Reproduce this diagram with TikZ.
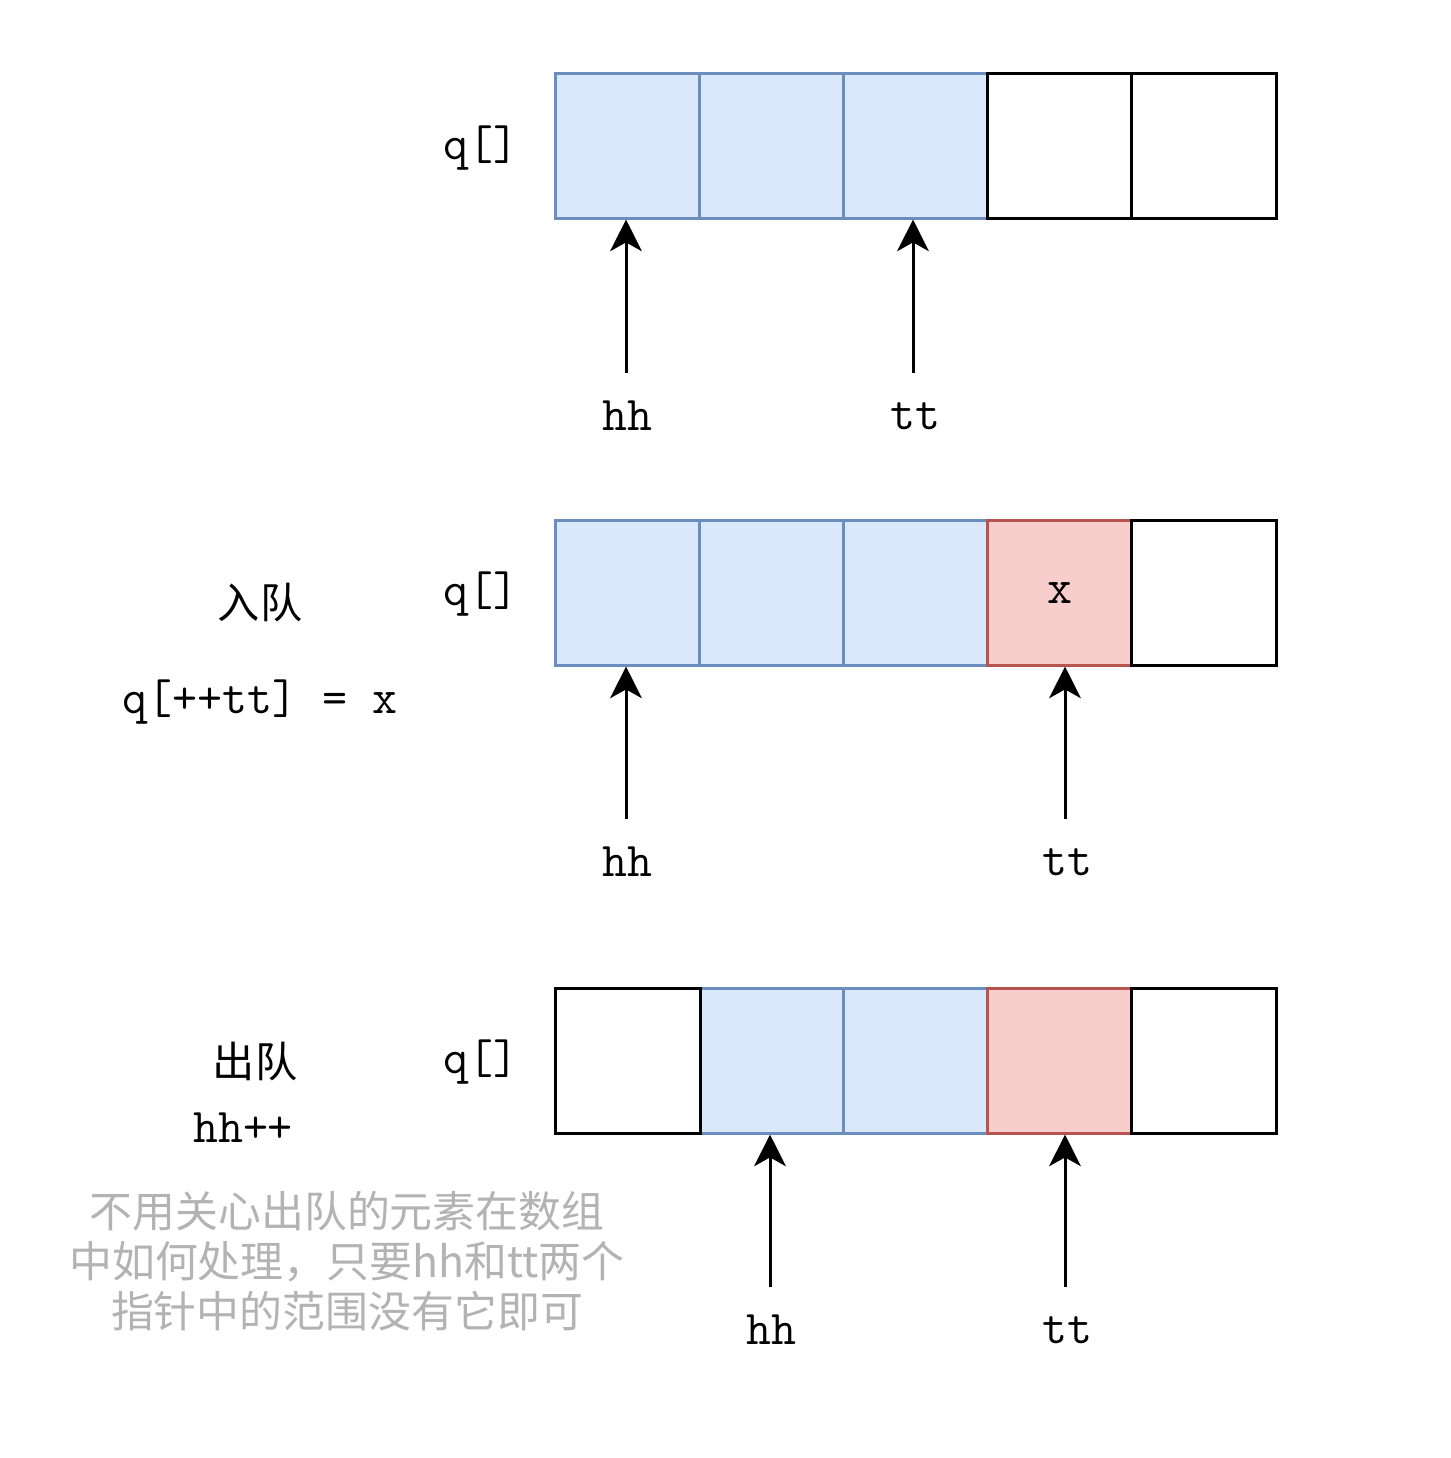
\documentclass[tikz,border=0pt]{standalone}
\usepackage{fontspec}
\newfontfamily\cjk{Noto Sans CJK SC}
\usetikzlibrary{arrows.meta}
\definecolor{bfill}{HTML}{DAE8FC}
\definecolor{bline}{HTML}{6C8EBF}
\definecolor{rfill}{HTML}{F8CECC}
\definecolor{rline}{HTML}{B85450}
\definecolor{note}{HTML}{B3B3B3}
\tikzset{
  cell/.style={draw=black, fill=white, line width=0.85pt, minimum width=1.44cm, minimum height=1.44cm, inner sep=0pt, font=\ttfamily\fontsize{13.8}{16}\selectfont},
  bcell/.style={cell, draw=bline, fill=bfill},
  rcell/.style={cell, draw=rline, fill=rfill},
  mono/.style={font=\ttfamily\fontsize{13.8}{16}\selectfont, inner sep=0pt},
  title/.style={font=\cjk\fontsize{12}{14}\selectfont, inner sep=0pt},
  arr/.style={line width=0.85pt, -{Stealth[length=9pt, width=9pt, inset=2.5pt]}},
}
\begin{document}
\begin{tikzpicture}[x=0.01cm, y=-0.01cm]
\useasboundingbox (0,0) rectangle (1450,1458);
% row 1
\node[bcell] (a1) at (628,146) {};
\node[bcell] (a2) at (772,146) {};
\node[bcell] (a3) at (916,146) {};
\node[cell] (a4) at (1060,146) {};
\node[cell] (a5) at (1204,146) {};
\node[mono] (qa) at (481,148) {q[]};
% row 2
\node[bcell] (b1) at (628,593) {};
\node[bcell] (b2) at (772,593) {};
\node[bcell] (b3) at (916,593) {};
\node[rcell] (b4) at (1060,593) {x};
\node[cell] (b5) at (1204,593) {};
\node[mono] (qb) at (481,594) {q[]};
% row 3
\node[bcell] (c2) at (772,1061) {};
\node[bcell] (c3) at (916,1061) {};
\node[rcell] (c4) at (1060,1061) {};
\node[cell] (c1) at (628,1061) {};
\node[cell] (c5) at (1204,1061) {};
\node[mono] (qc) at (481,1062) {q[]};
% labels
\node[mono] (hh1) at (627,416) {hh};
\node[mono] (tt1) at (915,416) {tt};
\node[mono] (hh2) at (627,862) {hh};
\node[mono] (tt2) at (1067,862) {tt};
\node[mono] (hh3) at (771,1330) {hh};
\node[mono] (tt3) at (1067,1330) {tt};
% arrows
\coordinate (s1) at (626,373);
\coordinate (s2) at (913,373);
\coordinate (s3) at (626,819);
\coordinate (s4) at (1065,819);
\coordinate (s5) at (770,1287);
\coordinate (s6) at (1065,1287);
\draw[arr] (s1) -- (s1 |- a1.south);
\draw[arr] (s2) -- (s2 |- a3.south);
\draw[arr] (s3) -- (s3 |- b1.south);
\draw[arr] (s4) -- (s4 |- b4.south);
\draw[arr] (s5) -- (s5 |- c2.south);
\draw[arr] (s6) -- (s6 |- c4.south);
% side texts
\node[title] (in) at (260,603) {入队};
\node[mono] (inc) at (260,702) {q[++tt] = x};
\node[title] (out) at (255,1062) {出队};
\node[mono] (outc) at (243,1128) {hh++};
\node[font=\cjk\fontsize{12.2}{14.3}\selectfont, text=note, align=center, inner sep=0pt] (nt) at (347,1261) {不用关心出队的元素在数组\\中如何处理，只要hh和tt两个\\指针中的范围没有它即可};
\end{tikzpicture}
\end{document}
